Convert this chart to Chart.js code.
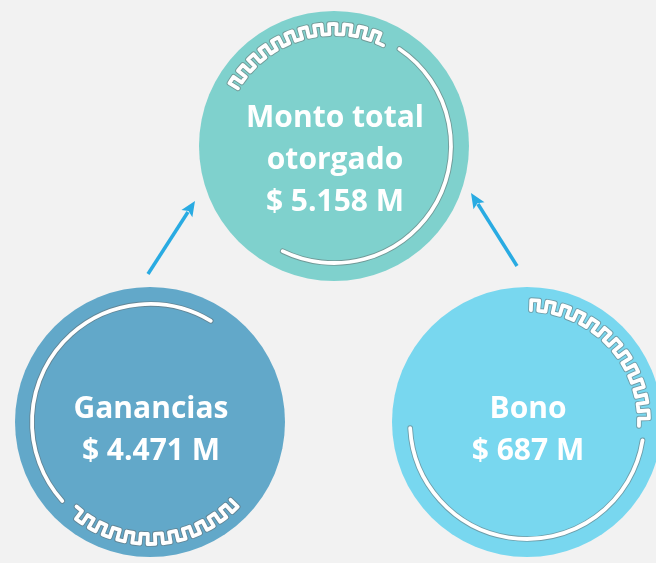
<!DOCTYPE html>
<html><head><meta charset="utf-8">
<script src="https://cdn.jsdelivr.net/npm/chart.js@4.4.0/dist/chart.umd.min.js"></script>
<style>html,body{margin:0;padding:0;background:#f2f2f2;} #wrap{width:656px;height:563px;}</style>
</head><body><div id="wrap"><canvas id="c" width="656" height="563"></canvas></div>
<script>
// ---- data ----
const CATEGORIES = ['Monto total otorgado', 'Ganancias', 'Bono'];
const LABEL_LINES = [['Monto total', 'otorgado'], ['Ganancias'], ['Bono']];
const VALUES = [5158, 4471, 687];          // $ millones
const CURRENCY = '$';
const UNIT = 'M';

// ---- layout / style ----
const COLORS = ['#7fd1cd', '#62a8c9', '#78d7ef'];
const NODE_X = [334, 150, 527];
const NODE_Y = [146, 422, 422];
const NODE_R = 135;
const TEXT_FIRST_BASELINE = [-19, -4, -4];
const LINE_GAP = 42;
const ARROWS = [[[148, 274], [195, 201]], [[517, 266], [471, 193]]];
// decorations: [startDeg, endDeg, radius]  (canvas angles, clockwise)
const ARCS = [[-56, 116, 117], [138, 301, 118], [9, 177, 117]];
const MEANDERS = [[-149, -64, 117], [44, 131, 117], [-88, 2, 117]];

function fmt(v) { return CURRENCY + ' ' + String(v).replace(/\B(?=(\d{3})+(?!\d))/g, '.') + ' ' + UNIT; }
const rad = d => d * Math.PI / 180;

function strokeSketch(ctx, pathFn) {
  ctx.save();
  ctx.lineJoin = 'round'; ctx.lineCap = 'round';
  pathFn(); ctx.strokeStyle = 'rgba(100,100,100,0.5)'; ctx.lineWidth = 5.6; ctx.stroke();
  pathFn(); ctx.strokeStyle = '#ffffff'; ctx.lineWidth = 3.8; ctx.stroke();
  ctx.restore();
}

function meanderPath(ctx, cx, cy, r, a0, a1, period, amp) {
  const A0 = rad(a0), A1 = rad(a1);
  const n = Math.max(1, Math.round(Math.abs(A1 - A0) * r / period));
  const step = (A1 - A0) / n;
  const rin = r - amp / 2, rout = r + amp / 2;
  const ccw = step < 0;
  ctx.beginPath();
  ctx.moveTo(cx + rin * Math.cos(A0), cy + rin * Math.sin(A0));
  for (let k = 0; k < n; k++) {
    const a = A0 + k * step;
    const am = a + step * 0.5;
    const ae = a + step;
    ctx.lineTo(cx + rout * Math.cos(a), cy + rout * Math.sin(a));
    ctx.arc(cx, cy, rout, a, am, ccw);
    ctx.lineTo(cx + rin * Math.cos(am), cy + rin * Math.sin(am));
    ctx.arc(cx, cy, rin, am, ae, ccw);
  }
}

const decorPlugin = {
  id: 'decor',
  beforeDraw(chart) {
    const ctx = chart.ctx;
    ctx.save(); ctx.fillStyle = '#f2f2f2'; ctx.fillRect(0, 0, chart.width, chart.height); ctx.restore();
  },
  afterDatasetsDraw(chart) {
    const ctx = chart.ctx;
    const meta = chart.getDatasetMeta(0);
    ARROWS.forEach(([from, to]) => {
      const dx = to[0] - from[0], dy = to[1] - from[1];
      const L = Math.hypot(dx, dy), ux = dx / L, uy = dy / L;
      const hl = 15, hw = 6.5;
      const bx = to[0] - ux * hl, by = to[1] - uy * hl;
      ctx.save();
      ctx.strokeStyle = '#29abe2'; ctx.fillStyle = '#29abe2'; ctx.lineWidth = 3.5;
      ctx.beginPath(); ctx.moveTo(from[0], from[1]); ctx.lineTo(bx + ux * 2, by + uy * 2); ctx.stroke();
      ctx.beginPath();
      ctx.moveTo(to[0], to[1]);
      ctx.lineTo(bx - uy * hw, by + ux * hw);
      ctx.lineTo(bx + ux * 3, by + uy * 3);
      ctx.lineTo(bx + uy * hw, by - ux * hw);
      ctx.closePath(); ctx.fill();
      ctx.restore();
    });
    meta.data.forEach((el, i) => {
      const cx = el.x, cy = el.y;
      const [s, e, r] = ARCS[i];
      strokeSketch(ctx, () => { ctx.beginPath(); ctx.arc(cx, cy, r, rad(s), rad(e), false); });
      const [m0, m1, mr] = MEANDERS[i];
      strokeSketch(ctx, () => meanderPath(ctx, cx, cy, mr, m0, m1, 15, 10));
      const lines = LABEL_LINES[i].concat([fmt(VALUES[i])]);
      ctx.save();
      ctx.fillStyle = '#ffffff';
      ctx.font = '700 30px "Open Sans", sans-serif';
      ctx.textAlign = 'center'; ctx.textBaseline = 'alphabetic';
      lines.forEach((t, j) => ctx.fillText(t, cx + 1, cy + TEXT_FIRST_BASELINE[i] + j * LINE_GAP));
      ctx.restore();
    });
  }
};

new Chart(document.getElementById('c'), {
  type: 'bubble',
  data: {
    labels: CATEGORIES,
    datasets: [{
      data: NODE_X.map((x, i) => ({ x: x, y: NODE_Y[i], r: NODE_R, v: VALUES[i] })),
      backgroundColor: COLORS,
      borderWidth: 0,
      hoverRadius: 0,
      clip: false
    }]
  },
  options: {
    responsive: false,
    animation: false,
    events: [],
    layout: { padding: 0, autoPadding: false },
    plugins: { legend: { display: false }, tooltip: { enabled: false } },
    scales: {
      x: { type: 'linear', min: 0, max: 656, display: false },
      y: { type: 'linear', min: 0, max: 563, reverse: true, display: false }
    }
  },
  plugins: [decorPlugin]
});
</script></body></html>
